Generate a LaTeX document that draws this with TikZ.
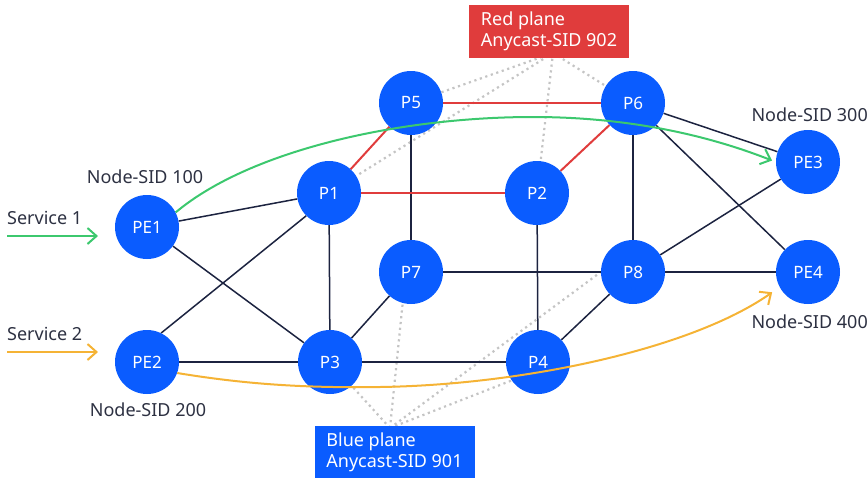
\documentclass[tikz,border=0pt]{standalone}
\usepackage{fontspec}
\setmainfont{Noto Sans}
\usetikzlibrary{arrows.meta}
\definecolor{nodeblue}{HTML}{0A5CFF}
\definecolor{linkdark}{HTML}{1C2340}
\definecolor{planered}{HTML}{E03C3C}
\definecolor{svcgreen}{HTML}{3CC86E}
\definecolor{svcorange}{HTML}{F5B335}
\definecolor{labeltext}{HTML}{2D3142}
\definecolor{planegrey}{HTML}{C4C4C4}
\tikzset{
  router/.style={circle, fill=nodeblue, text=white, minimum size=64pt, inner sep=0pt,
    font=\fontsize{17}{17}\selectfont},
  link/.style={draw=linkdark, line width=1.5pt},
  redlink/.style={draw=planered, line width=2pt},
  planelink/.style={draw=planegrey, line width=2.2pt, dash pattern=on 2.2pt off 3.6pt},
  sidlabel/.style={text=labeltext, font=\fontsize{18}{18}\selectfont, inner sep=0pt},
  planebox/.style={text=white, align=left, minimum width=160pt, minimum height=53pt,
    inner xsep=11pt, font=\fontsize{18}{21}\selectfont},
  svcpath/.style={line width=2pt, -{Straight Barb[length=9pt,width=16pt,line width=2pt]}},
}
\begin{document}
\begin{tikzpicture}[x=1pt,y=-1pt]
\useasboundingbox (0,0) rectangle (868,477);

% router centres, with invisible placeholders so links can refer to them
\path
  (147,227) coordinate (cPE1)
  (147,362) coordinate (cPE2)
  (808,162) coordinate (cPE3)
  (808,272) coordinate (cPE4)
  (329,193) coordinate (cP1)
  (537,193) coordinate (cP2)
  (330,362) coordinate (cP3)
  (538,362) coordinate (cP4)
  (411,103) coordinate (cP5)
  (633,103) coordinate (cP6)
  (411,272) coordinate (cP7)
  (633,272) coordinate (cP8);
\foreach \n in {PE1,PE2,PE3,PE4,P1,P2,P3,P4,P5,P6,P7,P8}
  \path (c\n) node[router, fill=none, text=white] (\n) {};

% plane label anchor points
\coordinate (redapex) at (553,53);
\coordinate (blueapex) at (390,428);

% anycast plane membership
\draw[planelink] (redapex) -- (P5);
\draw[planelink] (redapex) -- (P1);
\draw[planelink] (redapex) -- (P2);
\draw[planelink] (redapex) -- (P6);
\draw[planelink] (blueapex) -- (P3);
\draw[planelink] (blueapex) -- (P7.255);
\draw[planelink] (blueapex) -- (P4.215);
\draw[planelink] (blueapex) -- (P8.west);

% physical links
\draw[link] (PE1) -- (P1);
\draw[link] (PE1) -- (P3);
\draw[link] (PE2.64) -- (P1.225);
\draw[link] (PE2) -- (P3);
\draw[link] (P1) -- (P3);
\draw[link] (P3) -- (P7);
\draw[link] (P3) -- (P4);
\draw[link] (P5) -- (P7);
\draw[link] (P7) -- (P8);
\draw[link] (P2) -- (P4);
\draw[link] (P4) -- (P8);
\draw[link] (P6) -- (P8);
\draw[link] (P6) -- (PE3);
\draw[link] (P6) -- (PE4);
\draw[link] (P8) -- (PE3);
\draw[link] (P8) -- (PE4);

% red plane links
\draw[redlink] (P1) -- (P5);
\draw[redlink] (P5) -- (P6);
\draw[redlink] (P1) -- (P2);
\draw[redlink] (P2) -- (P6);

% router discs with labels
\foreach \n in {PE1,PE2,PE3,PE4,P1,P2,P3,P4,P5,P6,P7,P8}
  \node[router] at (c\n) {\n};

% service paths
\draw[svcpath, svcgreen, shorten >=4pt] (PE1.27)
  .. controls (250,150) and (400,117) .. (533,117)
  .. controls (640,117) and (720,140) .. (PE3.west);
\draw[svcpath, svcorange, shorten >=9pt] (PE2.-20)
  .. controls (250,385) and (310,388) .. (380,387)
  .. controls (520,385) and (690,350) .. (PE4.208);

% service inputs
\coordinate (s1start) at (7,236);
\coordinate (s2start) at (7,352);
\draw[svcpath, svcgreen] (s1start) -- (98,236);
\draw[svcpath, svcorange] (s2start) -- (98,352);
\node[sidlabel, anchor=west] (svc1) at (7,218) {Service 1};
\node[sidlabel, anchor=west] (svc2) at (7,334) {Service 2};

% node SIDs
\node[sidlabel] (sid100) at (145,177) {Node-SID 100};
\node[sidlabel] (sid200) at (148,410) {Node-SID 200};
\node[sidlabel, anchor=east] (sid300) at (868,115) {Node-SID 300};
\node[sidlabel, anchor=east] (sid400) at (868,322) {Node-SID 400};

% plane labels
\node[planebox, fill=planered] (redplane) at (549,31.5) {Red plane\\Anycast-SID 902};
\node[planebox, fill=nodeblue] (blueplane) at (394.5,452.5) {Blue plane\\Anycast-SID 901};
\end{tikzpicture}
\end{document}
